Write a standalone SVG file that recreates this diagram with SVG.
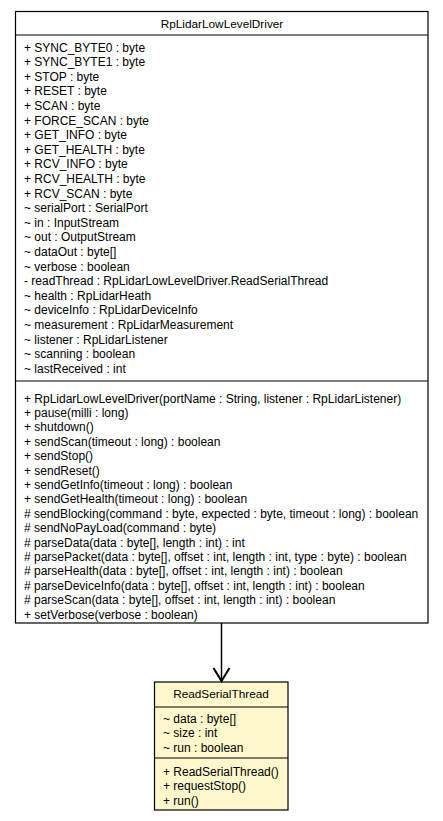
<svg xmlns="http://www.w3.org/2000/svg" width="443" height="821" viewBox="0 0 443 821">
<style>
text{font-family:"Liberation Sans",Arial,sans-serif;font-size:12px;fill:#000}
.box{stroke:#000;stroke-width:1.2}
.c{text-anchor:middle;font-size:11.8px}
</style>
<rect width="443" height="821" fill="#fff"/>
<g id="RpLidarLowLevelDriver">
<rect class="box" x="15.5" y="11.5" width="412.5" height="611.5" fill="#fff"/>
<line class="box" x1="15.5" y1="35" x2="428" y2="35"/>
<line class="box" x1="15.5" y1="381" x2="428" y2="381"/>
<text class="c" x="222" y="28">RpLidarLowLevelDriver</text>
<text x="24" y="51.5">+ SYNC_BYTE0 : byte</text>
<text x="24" y="66.1">+ SYNC_BYTE1 : byte</text>
<text x="24" y="80.7">+ STOP : byte</text>
<text x="24" y="95.3">+ RESET : byte</text>
<text x="24" y="109.9">+ SCAN : byte</text>
<text x="24" y="124.5">+ FORCE_SCAN : byte</text>
<text x="24" y="139.1">+ GET_INFO : byte</text>
<text x="24" y="153.7">+ GET_HEALTH : byte</text>
<text x="24" y="168.3">+ RCV_INFO : byte</text>
<text x="24" y="182.9">+ RCV_HEALTH : byte</text>
<text x="24" y="197.5">+ RCV_SCAN : byte</text>
<text x="24" y="212.1">~ serialPort : SerialPort</text>
<text x="24" y="226.7">~ in : InputStream</text>
<text x="24" y="241.3">~ out : OutputStream</text>
<text x="24" y="255.9">~ dataOut : byte[]</text>
<text x="24" y="270.5">~ verbose : boolean</text>
<text x="24" y="285.1">- readThread : RpLidarLowLevelDriver.ReadSerialThread</text>
<text x="24" y="299.7">~ health : RpLidarHeath</text>
<text x="24" y="314.3">~ deviceInfo : RpLidarDeviceInfo</text>
<text x="24" y="328.9">~ measurement : RpLidarMeasurement</text>
<text x="24" y="343.5">~ listener : RpLidarListener</text>
<text x="24" y="358.1">~ scanning : boolean</text>
<text x="24" y="372.7">~ lastReceived : int</text>
<text x="24" y="402.5">+ RpLidarLowLevelDriver(portName : String, listener : RpLidarListener)</text>
<text x="24" y="416.9">+ pause(milli : long)</text>
<text x="24" y="431.3">+ shutdown()</text>
<text x="24" y="445.7">+ sendScan(timeout : long) : boolean</text>
<text x="24" y="460.1">+ sendStop()</text>
<text x="24" y="474.5">+ sendReset()</text>
<text x="24" y="488.9">+ sendGetInfo(timeout : long) : boolean</text>
<text x="24" y="503.3">+ sendGetHealth(timeout : long) : boolean</text>
<text x="24" y="517.7"># sendBlocking(command : byte, expected : byte, timeout : long) : boolean</text>
<text x="24" y="532.1"># sendNoPayLoad(command : byte)</text>
<text x="24" y="546.5"># parseData(data : byte[], length : int) : int</text>
<text x="24" y="560.9"># parsePacket(data : byte[], offset : int, length : int, type : byte) : boolean</text>
<text x="24" y="575.3"># parseHealth(data : byte[], offset : int, length : int) : boolean</text>
<text x="24" y="589.7"># parseDeviceInfo(data : byte[], offset : int, length : int) : boolean</text>
<text x="24" y="604.1"># parseScan(data : byte[], offset : int, length : int) : boolean</text>
<text x="24" y="618.5">+ setVerbose(verbose : boolean)</text>
</g>
<g id="ReadSerialThread">
<rect class="box" x="154.5" y="682" width="133.5" height="128" fill="#fff8cc"/>
<line class="box" x1="154.5" y1="707" x2="288" y2="707"/>
<line class="box" x1="154.5" y1="758" x2="288" y2="758"/>
<text class="c" x="221" y="698">ReadSerialThread</text>
<text x="163" y="722.5">~ data : byte[]</text>
<text x="163" y="737">~ size : int</text>
<text x="163" y="751.5">~ run : boolean</text>
<text x="163" y="775.5">+ ReadSerialThread()</text>
<text x="163" y="790">+ requestStop()</text>
<text x="163" y="804.5">+ run()</text>
</g>
<g id="connectors" fill="none" stroke="#000">
<line x1="221.5" y1="623" x2="221.5" y2="681" stroke-width="1.5"/>
<path d="M213.5 668 L221.5 681 L229.5 668" stroke-width="2"/>
</g>
</svg>
